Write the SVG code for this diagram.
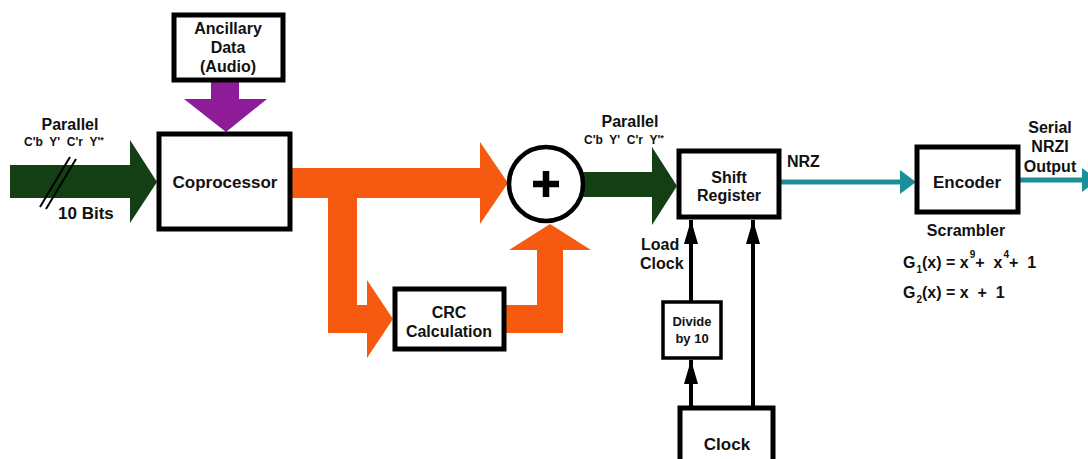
<svg xmlns="http://www.w3.org/2000/svg" width="1088" height="459" viewBox="0 0 1088 459">
  <defs>
    <style>
      .box { fill: #ffffff; stroke: #000000; stroke-width: 5; }
      .thin { fill: #ffffff; stroke: #000000; stroke-width: 3.5; }
      .t { font-family: "Liberation Sans", Arial, sans-serif; font-weight: bold; fill: #111111; white-space: pre; }
      .m { text-anchor: middle; }
      .green { fill: #143f14; }
      .orange { fill: #f55a10; }
      .purple { fill: #8e1b98; }
      .teal { fill: #1b8f98; }
      .wire { stroke: #000000; stroke-width: 4; fill: none; }
      .tealwire { stroke: #1b8f98; stroke-width: 5; fill: none; }
    </style>
    <marker id="blk" viewBox="0 0 24 14" refX="24" refY="7" markerWidth="24" markerHeight="14" markerUnits="userSpaceOnUse" orient="auto">
      <path d="M0,0 L24,7 L0,14 Z" fill="#000000"/>
    </marker>
  </defs>

  <!-- connectors -->
  <g id="connectors">
    <!-- parallel video input -->
    <polygon class="green" points="10,165 130,165 130,140 157,182 130,223 130,198 10,198"/>
    <line x1="40" y1="207" x2="70" y2="157" stroke="#000000" stroke-width="2"/>
    <line x1="46" y1="209" x2="76" y2="159" stroke="#000000" stroke-width="2"/>
    <!-- ancillary data in -->
    <polygon class="purple" points="211,82 239,82 239,99 267,99 226,132 184,99 211,99"/>
    <!-- coprocessor to adder -->
    <polygon class="orange" points="291,168 480,168 480,142 508,183 480,224 480,198 291,198"/>
    <!-- branch down to CRC -->
    <polygon class="orange" points="328,198 357,198 357,305 367,305 367,280 393,319 367,358 367,333 328,333"/>
    <!-- CRC up to adder -->
    <polygon class="orange" points="505,305 537,305 537,250 509,250 550,224 591,250 563,250 563,333 505,333"/>
    <!-- adder to shift register -->
    <polygon class="green" points="583,172 652,172 652,147 677,186 652,225 652,197 583,197"/>
    <!-- NRZ to encoder -->
    <line class="tealwire" x1="780" y1="182" x2="902" y2="182"/>
    <polygon class="teal" points="900,170 916,182 900,194"/>
    <!-- serial output -->
    <line class="tealwire" x1="1020" y1="180" x2="1084" y2="180"/>
    <polygon class="teal" points="1082,168 1098,180 1082,192"/>
    <!-- clock lines -->
    <line class="wire" x1="691" y1="407" x2="691" y2="360" marker-end="url(#blk)"/>
    <line class="wire" x1="691" y1="302" x2="691" y2="220" marker-end="url(#blk)"/>
    <line class="wire" x1="753" y1="407" x2="753" y2="220" marker-end="url(#blk)"/>
  </g>

  <g id="ancillary">
    <rect class="box" x="174" y="15" width="109" height="65"/>
    <text class="t m" x="228" y="34" font-size="16">Ancillary</text>
    <text class="t m" x="228" y="53" font-size="16">Data</text>
    <text class="t m" x="228" y="72" font-size="16">(Audio)</text>
  </g>

  <g id="input-labels">
    <text class="t m" x="70" y="130" font-size="16">Parallel</text>
    <text class="t" x="24" y="146" font-size="12">C'b  Y'  C'r  Y'<tspan font-size="9" dy="-3">*</tspan></text>
    <text class="t" x="58" y="219" font-size="17">10 Bits</text>
  </g>

  <g id="coprocessor">
    <rect class="box" x="159" y="134" width="131" height="95"/>
    <text class="t m" x="225" y="188" font-size="17">Coprocessor</text>
  </g>

  <g id="adder">
    <circle cx="546" cy="184" r="37" fill="#ffffff" stroke="#000000" stroke-width="4.5"/>
    <path d="M546,171 V197 M533,184 H559" stroke="#000000" stroke-width="6.5" fill="none"/>
  </g>

  <g id="crc">
    <rect class="box" x="395" y="289" width="109" height="60"/>
    <text class="t m" x="449" y="318" font-size="16">CRC</text>
    <text class="t m" x="449" y="337" font-size="16">Calculation</text>
  </g>

  <g id="parallel-labels">
    <text class="t m" x="630" y="127" font-size="16">Parallel</text>
    <text class="t" x="584" y="144" font-size="12">C'b  Y'  C'r  Y'<tspan font-size="9" dy="-3">*</tspan></text>
  </g>

  <g id="shift-register">
    <rect class="box" x="679" y="151" width="100" height="66"/>
    <text class="t m" x="729" y="183" font-size="16">Shift</text>
    <text class="t m" x="729" y="201" font-size="16">Register</text>
    <text class="t" x="787" y="167" font-size="16">NRZ</text>
    <text class="t" x="641" y="250" font-size="16">Load</text>
    <text class="t" x="640" y="269" font-size="16">Clock</text>
  </g>

  <g id="divider">
    <rect class="thin" x="663" y="302" width="58" height="56"/>
    <text class="t m" x="692" y="326" font-size="13">Divide</text>
    <text class="t m" x="692" y="343" font-size="13">by 10</text>
  </g>

  <g id="clock">
    <rect class="box" x="680" y="408" width="93" height="60"/>
    <text class="t m" x="727" y="450" font-size="17">Clock</text>
  </g>

  <g id="encoder">
    <rect class="box" x="917" y="147" width="101" height="65"/>
    <text class="t m" x="967" y="188" font-size="17">Encoder</text>
    <text class="t m" x="1050" y="133" font-size="16">Serial</text>
    <text class="t m" x="1050" y="152" font-size="16">NRZI</text>
    <text class="t m" x="1050" y="172" font-size="16">Output</text>
  </g>

  <g id="scrambler">
    <text class="t m" x="966" y="236" font-size="16">Scrambler</text>
    <text class="t" x="903" y="268" font-size="16">G<tspan font-size="10" dx="1" dy="5">1</tspan><tspan dy="-5">(x) = x</tspan><tspan font-size="10" dx="1" dy="-10">9</tspan><tspan dy="10">+  x</tspan><tspan font-size="10" dx="1" dy="-10">4</tspan><tspan dy="10">+  1</tspan></text>
    <text class="t" x="903" y="298" font-size="16">G<tspan font-size="10" dx="1" dy="5">2</tspan><tspan dy="-5">(x) = x  +  1</tspan></text>
  </g>
</svg>
